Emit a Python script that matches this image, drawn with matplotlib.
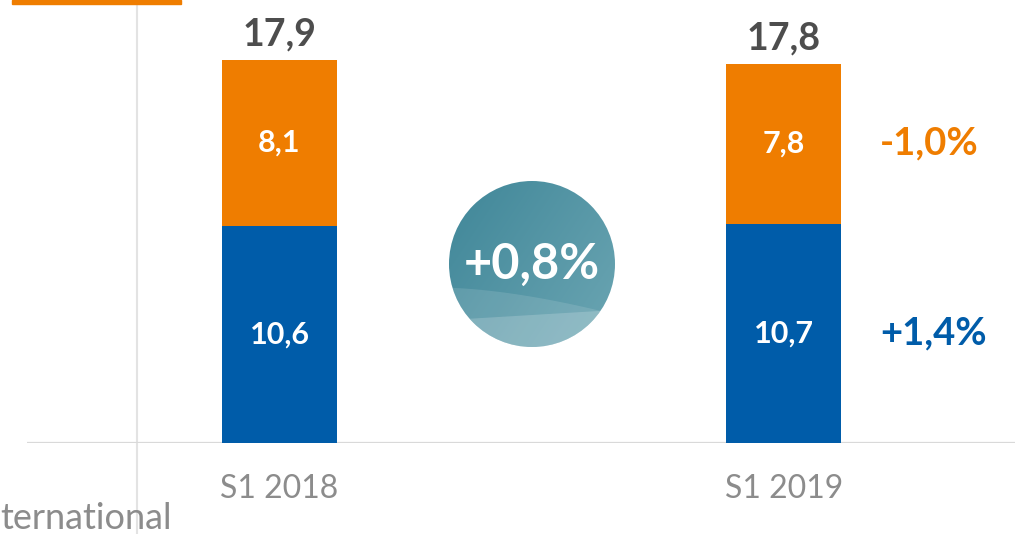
import numpy as np
import matplotlib
matplotlib.use("Agg")
import matplotlib.pyplot as plt
from matplotlib.patches import Circle, Rectangle, Polygon
from matplotlib.lines import Line2D

# data
periods = ["S1 2018", "S1 2019"]
blue_vals = [10.6, 10.7]
orange_vals = [8.1, 7.8]
totals = [17.9, 17.8]
orange_change = "-1,0%"
blue_change = "+1,4%"
total_change = "+0,8%"

ORANGE = "#EF7D00"
BLUE = "#005CA9"
DARK = "#4d4d4d"
GREY = "#8c8c8c"

W, H = 1015, 534
plt.rcParams['font.family'] = ['Lato', 'DejaVu Sans']

fig = plt.figure(figsize=(W / 100, H / 100), dpi=100)

# vertical separator line and title decoration (behind everything)
fig.add_artist(Line2D([137 / W, 137 / W], [0, 1], color="#e3e3e3", lw=1.5,
                      transform=fig.transFigure, zorder=0))
fig.add_artist(Rectangle((12 / W, 1 - 4 / H), (181 - 12) / W, 4 / H,
                         color=ORANGE, transform=fig.transFigure))

ax = fig.add_axes([27 / W, 91 / H, (W - 27) / W, 443 / H])
ax.patch.set_visible(False)

x = np.arange(len(periods))
width = 0.228
ax.bar(x, blue_vals, width, color=BLUE, zorder=2)
ax.bar(x, orange_vals, width, bottom=blue_vals, color=ORANGE, zorder=2)

def fmt(v):
    return f"{v:.1f}".replace(".", ",")

for i in range(len(periods)):
    ax.text(x[i], blue_vals[i] / 2, fmt(blue_vals[i]), ha="center", va="center",
            color="white", fontsize=22, fontweight="bold")
    ax.text(x[i], blue_vals[i] + orange_vals[i] / 2, fmt(orange_vals[i]),
            ha="center", va="center", color="white", fontsize=22, fontweight="bold")
    ax.annotate(fmt(totals[i]), xy=(x[i], blue_vals[i] + orange_vals[i]),
                xytext=(0, 10), textcoords="offset points", ha="center",
                va="baseline", color=DARK, fontsize=27, fontweight="bold")

# change labels right of last bar
last = len(periods) - 1
ax.text(1.19, blue_vals[last] + orange_vals[last] / 2, orange_change, ha="left",
        va="center", color=ORANGE, fontsize=27.5, fontweight="bold")
ax.text(1.19, blue_vals[last] / 2, blue_change, ha="left", va="center",
        color=BLUE, fontsize=27.5, fontweight="bold")

ax.set_xlim(-0.5005, 1.458)
ax.set_ylim(0, 443 / 20.5)
ax.axhline(0, color="#d9d9d9", lw=1.6, zorder=1)
for s in ax.spines.values():
    s.set_visible(False)
ax.set_yticks([])
ax.set_xticks(x)
ax.set_xticklabels(periods, color=GREY, fontsize=23, fontweight="normal")
ax.tick_params(axis="x", length=0, pad=22)

fig.text(0, 5 / H, "ternational", color=GREY, fontsize=26, fontweight="normal",
         ha="left", va="baseline")

# circle badge
cx, cy, r = 532, 264, 83
cax = fig.add_axes([(cx - r - 2) / W, (H - cy - r - 2) / H, (2 * r + 4) / W, (2 * r + 4) / H])
cax.set_xlim(0, 1)
cax.set_ylim(0, 1)
cax.axis("off")
rr = r / (2 * r + 4)
clip = Circle((0.5, 0.5), rr, transform=cax.transData, facecolor="none", edgecolor="none")
cax.add_patch(clip)
gx, gy = np.meshgrid(np.linspace(0, 1, 200), np.linspace(0, 1, 200))
t = np.clip(0.6 * gx + 0.4 * (1 - gy), 0, 1)
c0 = np.array([0x3f, 0x86, 0x98]) / 255
c1 = np.array([0x6c, 0xa6, 0xb3]) / 255
img = c0[None, None, :] * (1 - t[..., None]) + c1[None, None, :] * t[..., None]
im = cax.imshow(img, extent=(0, 1, 0, 1), origin="lower", zorder=1)
im.set_clip_path(clip)
xs = np.linspace(0, 1, 60)
band1 = 0.36 - 0.16 * xs ** 1.6
band2 = 0.17 + 0.06 * xs
p1 = Polygon(np.vstack([np.c_[xs, band1], [[1, 0], [0, 0]]]), closed=True,
             facecolor="white", alpha=0.12, edgecolor="none", zorder=2)
p2 = Polygon(np.vstack([np.c_[xs, band2], [[1, 0], [0, 0]]]), closed=True,
             facecolor="white", alpha=0.18, edgecolor="none", zorder=3)
for p in (p1, p2):
    cax.add_patch(p)
    p.set_clip_path(clip)
cax.text(0.5, 0.5, total_change, ha="center", va="center", color="white",
         fontsize=35, fontweight="bold", zorder=4)

fig.savefig("out.png", dpi=100)
